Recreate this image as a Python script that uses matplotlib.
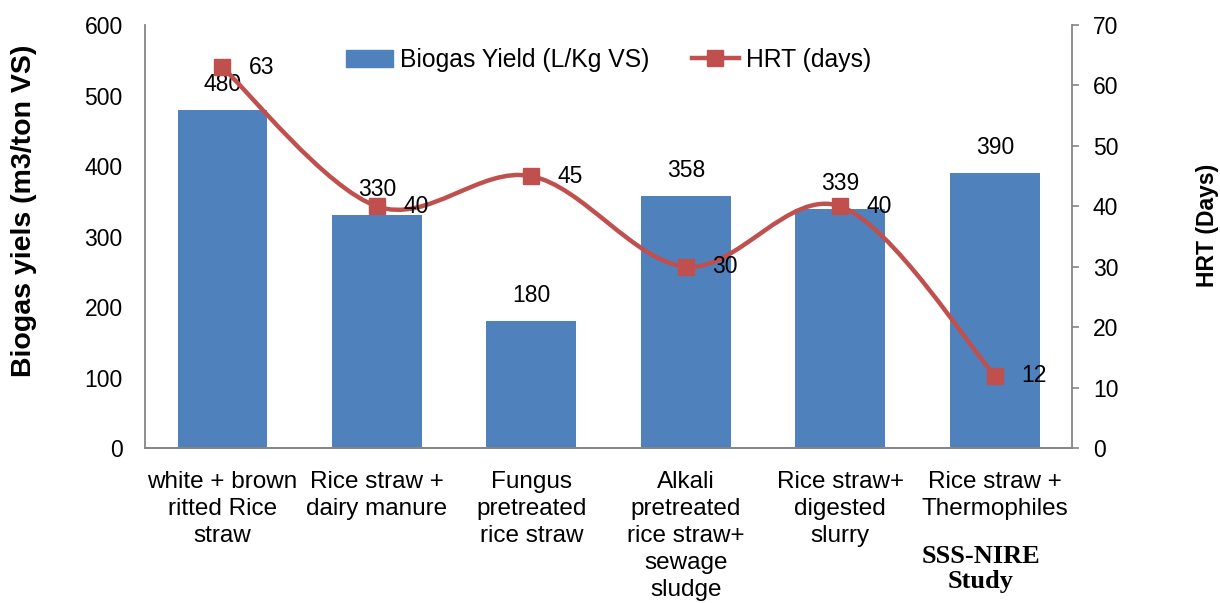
import matplotlib.pyplot as plt
import numpy as np
from matplotlib.path import Path
from matplotlib.patches import PathPatch, Patch
from matplotlib.lines import Line2D

plt.rcParams['font.family'] = ['Liberation Sans', 'DejaVu Sans']

categories = ['white + brown\nritted Rice\nstraw', 'Rice straw +\ndairy manure',
              'Fungus\npretreated\nrice straw', 'Alkali\npretreated\nrice straw+\nsewage\nsludge',
              'Rice straw+\ndigested\nslurry', 'Rice straw +\nThermophiles']
biogas = [480, 330, 180, 358, 339, 390]
hrt = [63, 40, 45, 30, 40, 12]

BAR_COLOR = '#4F81BD'
LINE_COLOR = '#C0504D'
SPINE_COLOR = '#868686'


def smooth_path(x, y):
    # Catmull-Rom style bezier, like the "smoothed line" option in spreadsheet charts
    pts = np.column_stack([x, y]).astype(float)
    ext = np.vstack([pts[0], pts, pts[-1]])
    verts = [pts[0]]
    codes = [Path.MOVETO]
    for i in range(len(pts) - 1):
        p0, p1, p2, p3 = ext[i], ext[i + 1], ext[i + 2], ext[i + 3]
        verts += [p1 + (p2 - p0) / 6, p2 - (p3 - p1) / 6, p2]
        codes += [Path.CURVE4] * 3
    return Path(verts, codes)


fig = plt.figure(figsize=(12.2, 6.03), dpi=100)
ax = fig.add_axes([0.1189, 0.257, 0.7598, 0.7015])
ax2 = ax.twinx()

x = np.arange(len(categories))
ax.bar(x, biogas, width=0.58, color=BAR_COLOR, zorder=2)
ax.set_xlim(-0.5, len(categories) - 0.5)
ax.set_ylim(0, 600)
ax.set_yticks(range(0, 601, 100))
ax.set_xticks(x)
ax.set_xticklabels(categories, fontsize=17.5, linespacing=1.29)
ax.tick_params(axis='x', length=0, pad=16.5)
ax.tick_params(axis='y', length=0, pad=16, labelsize=16.5)

for xi, v in zip(x, biogas):
    ax.annotate(str(v), (xi, v), xytext=(0, 10), textcoords='offset points',
                ha='center', va='bottom', fontsize=16.5)

ax2.set_ylim(0, 70)
ax2.set_yticks(range(0, 71, 10))
ax2.tick_params(axis='y', length=5, width=1.2, color=SPINE_COLOR, pad=10, labelsize=16.5)
ax2.add_patch(PathPatch(smooth_path(x, hrt), facecolor='none', edgecolor=LINE_COLOR,
                        linewidth=3.2, zorder=3))
ax2.plot(x, hrt, linestyle='none', marker='s', markersize=11, color=LINE_COLOR, zorder=4)
for xi, v in zip(x, hrt):
    ax2.annotate(str(v), (xi, v), xytext=(19, 0), textcoords='offset points',
                 ha='left', va='center', fontsize=16.5)

for a in (ax, ax2):
    a.spines['top'].set_visible(False)
    for s in ('left', 'right', 'bottom'):
        a.spines[s].set_color(SPINE_COLOR)
        a.spines[s].set_linewidth(1.3)
ax.spines['right'].set_visible(False)
ax2.spines['left'].set_visible(False)

handles = [Patch(color=BAR_COLOR),
           Line2D([], [], color=LINE_COLOR, linewidth=3.2, marker='s', markersize=11)]
ax2.legend(handles, ['Biogas Yield (L/Kg VS)', 'HRT (days)'], loc='center',
           bbox_to_anchor=(0.50, 0.917), ncol=2, frameon=False, fontsize=17.8,
           handlelength=1.9, handleheight=0.7, columnspacing=1.7, handletextpad=0.3)

fig.text(0.02, 0.65, 'Biogas yiels (m3/ton VS)', rotation=90, ha='center', va='center',
         fontsize=20.5, fontweight='bold')
fig.text(0.99, 0.627, 'HRT (Days)', rotation=90, ha='center', va='center',
         fontsize=16.5, fontweight='bold')
fig.text(0.804, 0.0564, 'SSS-NIRE\nStudy', ha='center', va='center', fontsize=19,
         fontweight='bold', family=['Liberation Serif', 'DejaVu Serif'], linespacing=1.15)

fig.savefig('out.png', dpi=100)
